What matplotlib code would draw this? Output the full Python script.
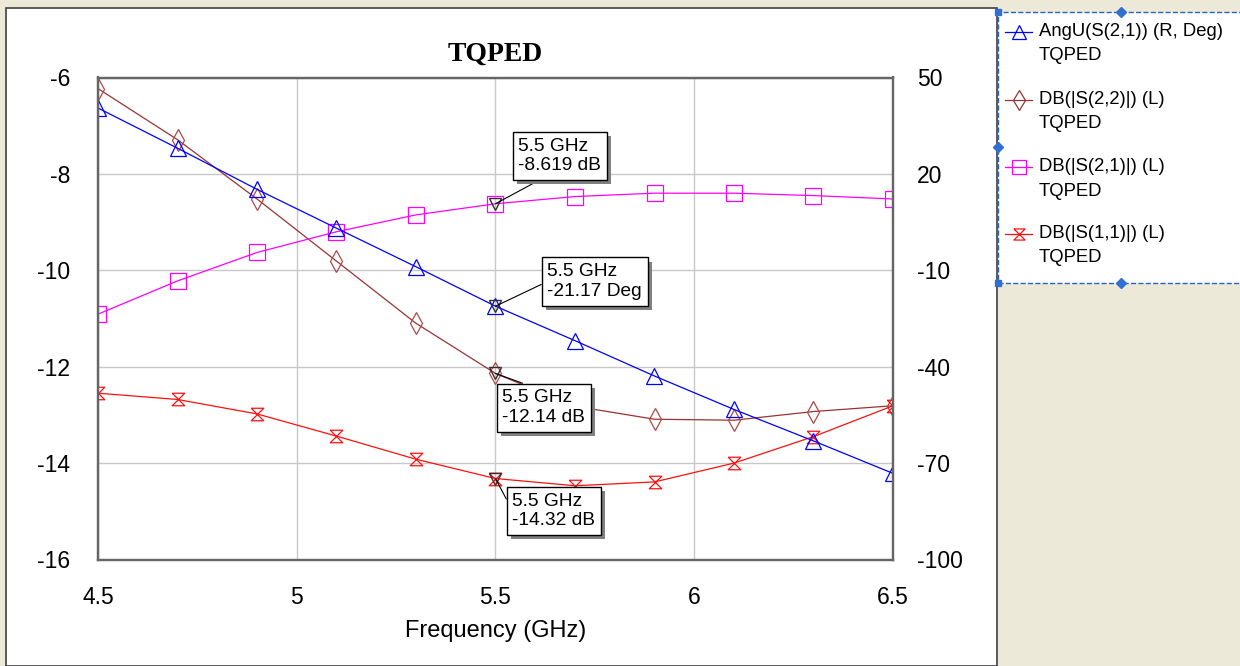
import matplotlib as mpl
mpl.use('Agg')
import matplotlib.pyplot as plt
import matplotlib.patheffects as pe
from matplotlib.path import Path
from matplotlib.lines import Line2D
from matplotlib.patches import Rectangle

# data
freqs = [4.5, 4.7, 4.9, 5.1, 5.3, 5.5, 5.7, 5.9, 6.1, 6.3, 6.5]
angS21 = [40.5, 28.0, 15.2, 3.1, -8.9, -21.17, -31.9, -42.9, -53.3, -63.1, -73.2]
dbS22 = [-6.23, -7.29, -8.52, -9.81, -11.10, -12.14, -12.82, -13.09, -13.11, -12.93, -12.81]
dbS21 = [-10.91, -10.22, -9.63, -9.20, -8.85, -8.619, -8.47, -8.40, -8.40, -8.45, -8.52]
dbS11 = [-12.55, -12.68, -12.98, -13.44, -13.92, -14.32, -14.47, -14.39, -14.00, -13.45, -12.81]

leftTicks = [-16, -14, -12, -10, -8, -6]
rightTicks = [-100, -70, -40, -10, 20, 50]
xTicks = [4.5, 5, 5.5, 6, 6.5]
xTickLabels = ['4.5', '5', '5.5', '6', '6.5']

markerFreq = 5.5
legendNames = ['AngU(S(2,1)) (R, Deg)', 'DB(|S(2,2)|) (L)', 'DB(|S(2,1)|) (L)', 'DB(|S(1,1)|) (L)']

plt.rcParams['font.family'] = ['Liberation Sans', 'DejaVu Sans']
plt.rcParams['axes.unicode_minus'] = False

W, H = 1240, 666
fig = plt.figure(figsize=(W / 100, H / 100), dpi=100, facecolor='#ECE9D8')

def fx(px):                                                                 # pixel -> figure fraction
    return px / W

def fy(py):
    return 1 - py / H

# white graph panel (behind everything)
fig.patches.append(Rectangle((fx(6), 0), fx(991), fy(8), transform=fig.transFigure,
                             facecolor='white', edgecolor='#404040', lw=1.2, zorder=-10))

hourglass = Path([(-1, 1), (1, 1), (-1, -1), (1, -1), (-1, 1)],
                 [Path.MOVETO, Path.LINETO, Path.LINETO, Path.LINETO, Path.LINETO])

blue, brown, magenta, red = '#0000FF', '#993333', '#FF00FF', '#FF1010'

ax = fig.add_axes([fx(98), fy(559.5), fx(795), (559.5 - 77.5) / H])
ax.set_facecolor('white')
ax2 = ax.twinx()

ax.plot(freqs, dbS22, color=brown, lw=0.9, marker='d', ms=11, mfc='none', mec='#B04848', mew=0.9)
ax.plot(freqs, dbS21, color=magenta, lw=0.9, marker='s', ms=11, mfc='none', mec=magenta, mew=0.9)
ax.plot(freqs, dbS11, color=red, lw=0.9, marker=hourglass, ms=9, mfc='none', mec=red, mew=0.9)
ax2.plot(freqs, angS21, color=blue, lw=0.9, marker='^', ms=11, mfc='none', mec=blue, mew=0.9)

ax.set_xlim(4.5, 6.5)
ax.set_ylim(-16, -6)
ax2.set_ylim(-100, 50)
ax.set_xticks(xTicks)
ax.set_xticklabels(xTickLabels)
ax.set_yticks(leftTicks)
ax2.set_yticks(rightTicks)
ax.grid(True, color='#C8C8C8', lw=1.0)
ax.set_axisbelow(True)

for a in (ax, ax2):
    a.tick_params(length=0, labelsize=16.5, colors='black')
    for s in a.spines.values():
        s.set_color('#666666')
        s.set_linewidth(1.6)
ax.tick_params(axis='y', pad=20)
ax.tick_params(axis='x', pad=19)
ax2.tick_params(axis='y', pad=17)

ax.set_xlabel('Frequency (GHz)', fontsize=17, labelpad=8)
ax.set_title('TQPED', fontsize=20, fontweight='bold', family='Liberation Serif', pad=12)

# marker readouts at 5.5 GHz
i = freqs.index(markerFreq)
markers = [(ax, dbS21[i], '%.3f dB' % dbS21[i], (23, 66), (0.38, 0)),
           (ax2, angS21[i], '%.2f Deg' % angS21[i], (52, 43), (0, 0.5)),
           (ax, dbS22[i], '%.2f dB' % dbS22[i], (7, -16), (0.45, 1)),
           (ax, dbS11[i], '%.2f dB' % dbS11[i], (17, -14), (0, 0.5))]
for a, val, label, off, rel in markers:
    a.plot([markerFreq], [val], marker='v', ms=8, mfc='none', mec='#303030', mew=1.0, zorder=6)
    t = a.annotate('%.1f GHz\n%s' % (markerFreq, label), xy=(markerFreq, val), xytext=off,
                   textcoords='offset pixels', ha='left', va='top', fontsize=13.8, linespacing=1.2,
                   bbox=dict(boxstyle='square,pad=0.3', fc='white', ec='black', lw=1.0),
                   arrowprops=dict(arrowstyle='-', color='black', lw=0.8, relpos=rel,
                                   shrinkA=0, shrinkB=0), zorder=7)
    t.get_bbox_patch().set_path_effects([pe.SimplePatchShadow(offset=(3, -3), shadow_rgbFace='#808080', alpha=1),
                                         pe.Normal()])

# legend panel on the right
fig.patches.append(Rectangle((fx(998), fy(283)), fx(245), (283 - 12) / H, transform=fig.transFigure,
                             facecolor='white', edgecolor='#3060C0', lw=1.0, ls='--', zorder=1))
legStyles = [(blue, '^'), (brown, 'd'), (magenta, 's'), (red, hourglass)]
rowY = [32, 100, 167, 234]
for (c, m), name, y in zip(legStyles, legendNames, rowY):
    fig.add_artist(Line2D([fx(1005), fx(1032)], [fy(y), fy(y)], color=c, lw=0.9,
                          transform=fig.transFigure))
    fig.add_artist(Line2D([fx(1018.5)], [fy(y)], marker=m, ms=10 if m != hourglass else 8,
                          mfc='none', mec=c, mew=0.9, transform=fig.transFigure))
    fig.text(fx(1039), fy(y), name, fontsize=13.3, va='center', ha='left')
    fig.text(fx(1039), fy(y + 24), 'TQPED', fontsize=13.3, va='center', ha='left')

for hx, hy, hm in [(998, 12, 's'), (998, 283, 's'), (1121, 12, 'D'), (1121, 283, 'D'), (998, 147, 'D')]:
    fig.add_artist(Line2D([fx(hx)], [fy(hy)], marker=hm, ms=5, mfc='#3070D0', mec='#3070D0',
                          transform=fig.transFigure))

fig.savefig('out.png', dpi=100, facecolor=fig.get_facecolor())
